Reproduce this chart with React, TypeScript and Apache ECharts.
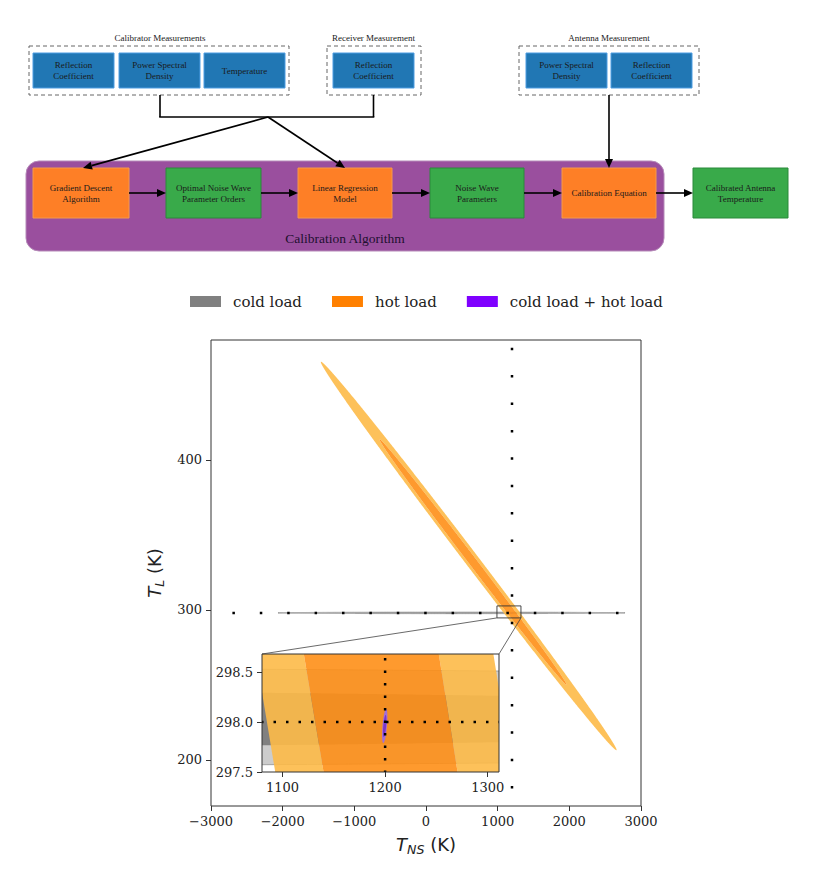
import React, { useEffect, useRef } from "react";
import * as echarts from "echarts";

// ---------------- data ----------------
const legendNames = ["cold load", "hot load", "cold load + hot load"];
const legendColors = ["#808080", "#ff8000", "#7f00ff"];

// contour ellipses: [centre T_NS, centre T_L, long semi-diameter (dT_NS, dT_L), conjugate semi-diameter (dT_NS, dT_L)]
const coldOuter = [356, 298.05, 2421, 0, 0, 0.5];
const coldInner = [356, 298.03, 1500, 0, 0, 0.3];
const hotOuter = [596, 336, 2060, -129.5, 121, 0];
const hotInner = [656, 332, 1304, -81.9, 72, 0];
const jointOuter = [1199.6, 297.96, 1.4, 0.17, 2.2, 0];
const jointInner = [1199.6, 297.96, 0.9, 0.11, 1.4, 0];

const trueTNS = 1200;
const trueTL = 298;

const mainXRange = [-3000, 3000];
const mainYRange = [169.3, 480];
const insetXRange = [1080, 1311];
const insetYRange = [297.5, 298.68];
const zoomBoxX = [990, 1325];
const zoomBoxY = [294.7, 302.7];

const mainXInterval = 1000;
const mainYTicks = [200, 300, 400];
const insetXTicks = [1100, 1200, 1300];
const insetYTicks = [297.5, 298.0, 298.5];

// flowchart texts
const groupTitles = ["Calibrator Measurements", "Receiver Measurement", "Antenna Measurement"];
const inputBoxes = [
  "Reflection\nCoefficient",
  "Power Spectral\nDensity",
  "Temperature",
  "Reflection\nCoefficient",
  "Power Spectral\nDensity",
  "Reflection\nCoefficient",
];
const stepBoxes = [
  "Gradient Descent\nAlgorithm",
  "Optimal Noise Wave\nParameter Orders",
  "Linear Regression\nModel",
  "Noise Wave\nParameters",
  "Calibration Equation",
  "Calibrated Antenna\nTemperature",
];
const algorithmTitle = "Calibration Algorithm";

// ---------------- layout / style ----------------
const BLUE = "#2177b4";
const BLUE_B = "#4d9de2";
const ORANGE = "#fe7f26";
const ORANGE_B = "#f59a4a";
const GREEN = "#39aa4a";
const GREEN_B = "#2a8a3a";
const PURPLE_BG = "#9a4f9e";
const SERIF = '"Liberation Serif", "Times New Roman", serif';

const groupTitlePos = [[160, 38], [373.5, 38], [609, 38]];
const groupBoxRects = [[29, 46, 260, 49], [327, 46, 94, 49], [519, 46, 180, 49]];
const inputRects = [
  [33, 53, 81, 35], [119, 53, 81, 35], [204, 53, 81, 35],
  [333, 53, 81, 35], [526, 53, 81, 35], [611, 53, 81, 35],
];
const stepRects = [
  [33, 168, 96, 50], [166, 168, 95, 50], [298, 168, 94, 50],
  [430, 168, 94, 50], [562, 168, 94, 50], [693, 168, 95, 50],
];
const stepFill = [ORANGE, GREEN, ORANGE, GREEN, ORANGE, GREEN];

function arrow(x1: number, y1: number, x2: number, y2: number, head = true): any[] {
  const dx = x2 - x1, dy = y2 - y1;
  const len = Math.hypot(dx, dy);
  const ux = dx / len, uy = dy / len;
  const hl = 9, hw = 4;
  const ex = head ? x2 - ux * hl : x2, ey = head ? y2 - uy * hl : y2;
  const els: any[] = [
    { type: "line", shape: { x1, y1, x2: ex, y2: ey }, style: { stroke: "#000", lineWidth: 1.6 } },
  ];
  if (head) {
    els.push({
      type: "polygon",
      shape: { points: [[x2, y2], [ex - uy * hw, ey + ux * hw], [ex + uy * hw, ey - ux * hw]] },
      style: { fill: "#000" },
    });
  }
  return els;
}

function boxEls(r: number[], fill: string, stroke: string, text: string): any[] {
  return [
    { type: "rect", shape: { x: r[0], y: r[1], width: r[2], height: r[3] }, style: { fill, stroke, lineWidth: 1 } },
    {
      type: "text", x: r[0] + r[2] / 2, y: r[1] + r[3] / 2,
      style: { text, fill: "#1a1a1a", fontSize: 9, fontFamily: SERIF, align: "center", verticalAlign: "middle", lineHeight: 11 },
    },
  ];
}

function flowchart(): any[] {
  const els: any[] = [];
  groupBoxRects.forEach((r) =>
    els.push({
      type: "rect", shape: { x: r[0], y: r[1], width: r[2], height: r[3] },
      style: { fill: "none", stroke: "#666", lineWidth: 1, lineDash: [4, 3] },
    })
  );
  groupTitles.forEach((t, i) =>
    els.push({
      type: "text", x: groupTitlePos[i][0], y: groupTitlePos[i][1],
      style: { text: t, fill: "#1a1a1a", fontSize: 9, fontFamily: SERIF, align: "center", verticalAlign: "middle" },
    })
  );
  inputBoxes.forEach((t, i) => els.push(...boxEls(inputRects[i], BLUE, BLUE_B, t)));
  els.push(...arrow(160, 95, 160, 117, false));
  els.push(...arrow(373.5, 95, 373.5, 117, false));
  els.push(...arrow(159.2, 117, 374.3, 117, false));
  els.push({
    type: "rect", shape: { x: 26, y: 161, width: 638, height: 90, r: 13 },
    style: { fill: PURPLE_BG, stroke: "#b58ab8", lineWidth: 1 },
  });
  els.push({
    type: "text", x: 345, y: 238,
    style: { text: algorithmTitle, fill: "#1e1030", fontSize: 13.5, fontFamily: SERIF, align: "center", verticalAlign: "middle" },
  });
  stepBoxes.forEach((t, i) => els.push(...boxEls(stepRects[i], stepFill[i], stepFill[i] === GREEN ? GREEN_B : ORANGE_B, t)));
  els.push(...arrow(268, 117, 83, 168));
  els.push(...arrow(268, 117, 345, 168));
  els.push(...arrow(609, 95, 609, 168));
  for (let i = 0; i < stepRects.length - 1; i++) {
    const a = stepRects[i], b = stepRects[i + 1];
    els.push(...arrow(a[0] + a[2], 193, b[0], 193));
  }
  return els;
}

// ---------------- series builders ----------------
function ellipsePixels(api: any, v: number[], reverse: boolean): number[][] {
  const pts: number[][] = [];
  const N = 1440;
  for (let i = 0; i < N; i++) {
    const k = reverse ? N - i : i;
    const t = (k / N) * Math.PI * 2;
    const c = Math.cos(t), s = Math.sin(t);
    pts.push(api.coord([v[0] + v[2] * c + v[4] * s, v[1] + v[3] * c + v[5] * s]));
  }
  return pts;
}

function toPath(pts: number[][]): string {
  let d = "M" + pts[0][0].toFixed(2) + " " + pts[0][1].toFixed(2);
  for (let i = 1; i < pts.length; i++) d += "L" + pts[i][0].toFixed(2) + " " + pts[i][1].toFixed(2);
  return d + "Z";
}

// filled contour region: outer ellipse, optionally minus an inner ellipse (so levels do not stack)
function contourSeries(name: string, grid: number, outer: number[], hole: number[] | null, fill: string, z: number, opacity = 1, stroke?: string) {
  const vals = hole ? outer.concat(hole) : outer.slice();
  return {
    type: "custom", name, xAxisIndex: grid, yAxisIndex: grid, z, silent: true, clip: true,
    itemStyle: { color: fill },
    data: [vals],
    renderItem: (_p: any, api: any) => {
      const v = vals.map((_x, i) => api.value(i));
      let d = toPath(ellipsePixels(api, v.slice(0, 6), false));
      if (hole) d += toPath(ellipsePixels(api, v.slice(6, 12), true));
      return {
        type: "path",
        shape: { pathData: d },
        style: { fill, stroke: stroke || "none", lineWidth: stroke ? 0.9 : 0, opacity },
      };
    },
  };
}

function rectSeries(grid: number, xr: number[], yr: number[], z: number, color: string, width: number, clip: boolean) {
  return {
    type: "custom", xAxisIndex: grid, yAxisIndex: grid, z, silent: true, clip,
    data: [[xr[0], yr[0], xr[1], yr[1]]],
    renderItem: (_p: any, api: any) => {
      const a = api.coord([api.value(0), api.value(3)]);
      const b = api.coord([api.value(2), api.value(1)]);
      return {
        type: "rect",
        shape: { x: a[0], y: a[1], width: b[0] - a[0], height: b[1] - a[1] },
        style: { fill: "none", stroke: color, lineWidth: width },
      };
    },
  };
}

function truthLine(grid: number, pts: number[][], period: number, offset: number, width: number, z: number) {
  return {
    type: "line", xAxisIndex: grid, yAxisIndex: grid, data: pts, symbol: "none", silent: true, z,
    lineStyle: { color: "#000", width, type: [width, period - width], dashOffset: offset, cap: "butt" },
  };
}

function contourSet(grid: number, zBase: number) {
  return [
    contourSeries(legendNames[0], grid, coldOuter, null, "#cccccc", zBase, 1, "#9a9a9a"),
    contourSeries(legendNames[0], grid, coldInner, null, "#808080", zBase + 0.1),
    contourSeries(legendNames[1], grid, hotOuter, hotInner, "#fdba48", zBase + 0.2, 0.9),
    contourSeries(legendNames[1], grid, hotInner, null, "#fe8f17", zBase + 0.3, 0.9),
    contourSeries(legendNames[2], grid, jointOuter, null, "#a36fd8", zBase + 0.4),
    contourSeries(legendNames[2], grid, jointInner, null, "#7a36c8", zBase + 0.5),
  ];
}

const tickLabelStyle = { fontFamily: "DejaVu Serif", fontSize: 13, color: "#222" };
const minus = (v: number) => (v < 0 ? "\u2212" + Math.abs(v) : String(v));
const axisNameRich = {
  t: { fontFamily: "DejaVu Sans", fontStyle: "italic", fontSize: 18, lineHeight: 24, color: "#222" },
  s: { fontFamily: "DejaVu Sans", fontStyle: "italic", fontSize: 12.6, lineHeight: 13, verticalAlign: "bottom", color: "#222" },
  k: { fontFamily: "DejaVu Sans", fontSize: 18, lineHeight: 24, color: "#222" },
};
const hiddenAxisLine = { show: false, onZero: false };

export default function App() {
  const ref = useRef<HTMLDivElement>(null);
  useEffect(() => {
    if (!ref.current) return;
    const chart = echarts.init(ref.current, undefined, { renderer: "svg" });
    const option: any = {
      animation: false,
      backgroundColor: "#ffffff",
      legend: {
        left: 190, top: 294, padding: 0, icon: "rect", itemWidth: 31, itemHeight: 11, itemGap: 30,
        selectedMode: false,
        textStyle: { fontFamily: "DejaVu Serif", fontSize: 15, color: "#222", padding: [0, 0, 0, 7] },
        data: legendNames.map((n, i) => ({ name: n, itemStyle: { color: legendColors[i] } })),
      },
      grid: [
        { left: 211, top: 340, width: 430, height: 466, show: false },
        { left: 262, top: 654, width: 237, height: 118, show: true, backgroundColor: "#fff", borderWidth: 0 },
      ],
      xAxis: [
        {
          type: "value", gridIndex: 0, min: mainXRange[0], max: mainXRange[1], interval: mainXInterval,
          splitLine: { show: false }, axisLine: hiddenAxisLine,
          axisTick: { length: 5, lineStyle: { color: "#333" } },
          axisLabel: { ...tickLabelStyle, margin: 9, formatter: minus },
          name: "{t|T}{s|NS}{k| (K)}", nameLocation: "middle", nameGap: 26,
          nameTextStyle: { rich: axisNameRich },
        },
        {
          type: "value", gridIndex: 1, min: insetXRange[0], max: insetXRange[1],
          splitLine: { show: false }, axisLine: hiddenAxisLine,
          axisTick: { length: 5, lineStyle: { color: "#333" }, customValues: insetXTicks },
          axisLabel: { ...tickLabelStyle, margin: 9, customValues: insetXTicks, formatter: (v: number) => String(v) },
        },
      ],
      yAxis: [
        {
          type: "value", gridIndex: 0, min: mainYRange[0], max: mainYRange[1],
          splitLine: { show: false }, axisLine: hiddenAxisLine,
          axisTick: { length: 5, lineStyle: { color: "#333" }, customValues: mainYTicks },
          axisLabel: { ...tickLabelStyle, margin: 9, customValues: mainYTicks, formatter: (v: number) => String(v) },
          name: "{t|T}{s|L}{k| (K)}", nameLocation: "middle", nameGap: 27, nameRotate: 90,
          nameTextStyle: { rich: axisNameRich },
        },
        {
          type: "value", gridIndex: 1, min: insetYRange[0], max: insetYRange[1],
          splitLine: { show: false }, axisLine: hiddenAxisLine,
          axisTick: { length: 5, lineStyle: { color: "#333" }, customValues: insetYTicks },
          axisLabel: { ...tickLabelStyle, margin: 9, customValues: insetYTicks, formatter: (v: number) => v.toFixed(1) },
        },
      ],
      series: [
        ...contourSet(0, 2),
        truthLine(0, [[trueTNS, mainYRange[0]], [trueTNS, mainYRange[1]]], 27.4, 9.65, 2.5, 3),
        truthLine(0, [[mainXRange[0], trueTL], [mainXRange[1], trueTL]], 27.4, 5.65, 2.5, 3),
        rectSeries(0, zoomBoxX, zoomBoxY, 4, "#333", 0.9, true),
        rectSeries(0, mainXRange, mainYRange, 5, "#333", 1, false),
        ...contourSet(1, 6),
        truthLine(1, [[trueTNS, insetYRange[0]], [trueTNS, insetYRange[1]]], 12.5, 0.95, 2.5, 7),
        truthLine(1, [[insetXRange[0], trueTL], [insetXRange[1], trueTL]], 12.5, 0.75, 2.5, 7),
        rectSeries(1, insetXRange, insetYRange, 8, "#333", 1, false),
      ],
    };
    chart.setOption(option);
    const a0 = chart.convertToPixel({ gridIndex: 0 } as any, [zoomBoxX[0], zoomBoxY[0]]) as number[];
    const a1 = chart.convertToPixel({ gridIndex: 0 } as any, [zoomBoxX[1], zoomBoxY[0]]) as number[];
    const b0 = chart.convertToPixel({ gridIndex: 1 } as any, [insetXRange[0], insetYRange[1]]) as number[];
    const b1 = chart.convertToPixel({ gridIndex: 1 } as any, [insetXRange[1], insetYRange[1]]) as number[];
    const connectors = [
      { type: "line", z: 10, shape: { x1: a0[0], y1: a0[1], x2: b0[0], y2: b0[1] }, style: { stroke: "#444", lineWidth: 0.8 } },
      { type: "line", z: 10, shape: { x1: a1[0], y1: a1[1], x2: b1[0], y2: b1[1] }, style: { stroke: "#444", lineWidth: 0.8 } },
    ];
    chart.setOption({ graphic: [...flowchart(), ...connectors] });
    return () => chart.dispose();
  }, []);
  return <div ref={ref} style={{ position: "absolute", left: 0, top: 0, width: 831, height: 874 }} />;
}
